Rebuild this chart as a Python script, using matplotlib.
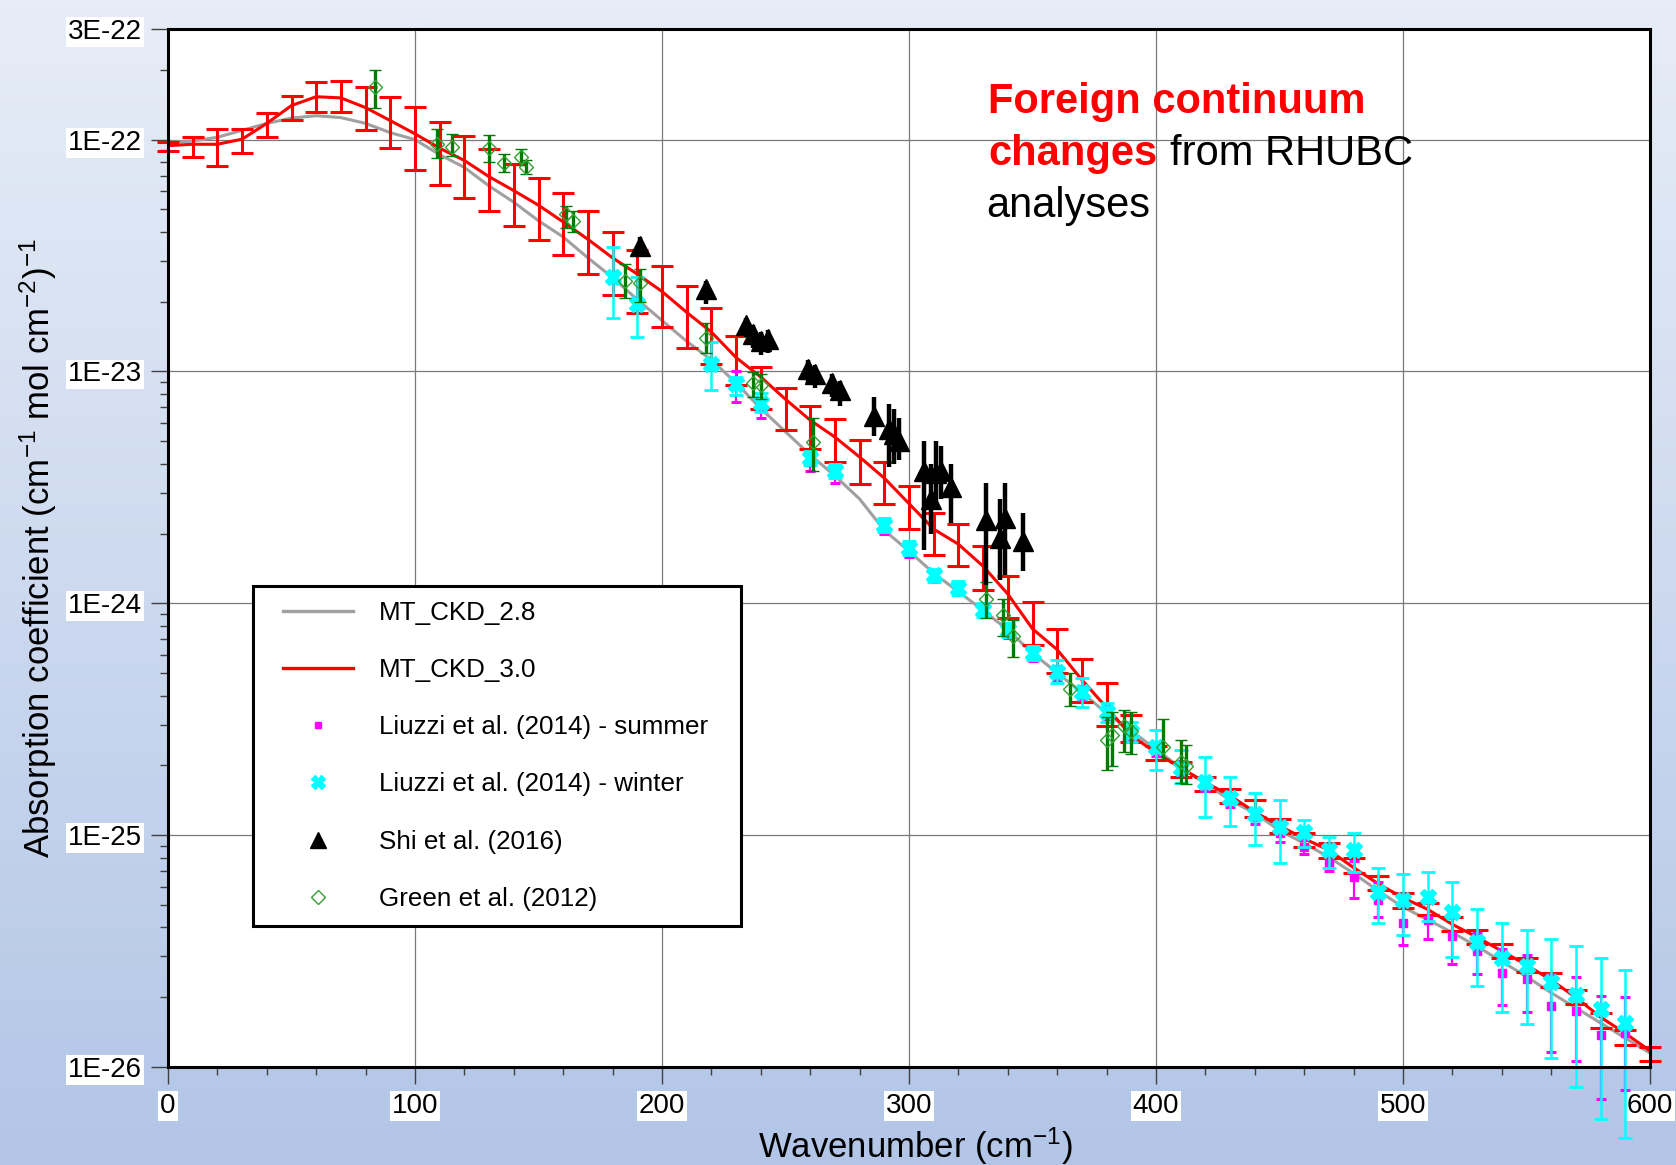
import numpy as np
import matplotlib
matplotlib.use('Agg')
import matplotlib.pyplot as plt
from matplotlib.lines import Line2D
from matplotlib.patches import Rectangle
from matplotlib.ticker import FixedLocator, FixedFormatter, NullFormatter, LogLocator, MultipleLocator

plt.rcParams['font.family'] = ['Liberation Sans', 'DejaVu Sans']
plt.rcParams['mathtext.fontset'] = 'custom'
plt.rcParams['mathtext.rm'] = 'Liberation Sans'
plt.rcParams['mathtext.it'] = 'Liberation Sans:italic'
plt.rcParams['mathtext.bf'] = 'Liberation Sans:bold'
plt.rcParams['mathtext.default'] = 'regular'

# ---------------- data (log10 of absorption coefficient) ----------------
wn_model = [0, 10, 20, 30, 40, 50, 60, 70, 80, 90, 100, 110, 120, 130, 140, 150,
            160, 170, 180, 190, 200, 210, 220, 230, 240, 250, 260, 270, 280, 290,
            300, 310, 320, 330, 340, 350, 360, 370, 380, 390, 400, 410, 420, 430,
            440, 450, 460, 470, 480, 490, 500, 510, 520, 530, 540, 550, 560, 570,
            580, 590, 600]

mtckd28_log10 = [-22.013, -22.006, -21.99, -21.96, -21.93, -21.907, -21.897, -21.905,
                 -21.93, -21.97, -22.0, -22.065, -22.12, -22.2, -22.27, -22.35, -22.42,
                 -22.51, -22.595, -22.69, -22.78, -22.87, -22.95, -23.05, -23.16, -23.26,
                 -23.36, -23.45, -23.55, -23.685, -23.775, -23.87, -23.95, -24.03, -24.115,
                 -24.215, -24.30, -24.385, -24.474, -24.55, -24.63, -24.71, -24.775, -24.85,
                 -24.905, -24.98, -25.035, -25.095, -25.165, -25.24, -25.31, -25.365, -25.42,
                 -25.48, -25.545, -25.61, -25.68, -25.745, -25.81, -25.875, -25.94]

mtckd30_log10 = [-22.026, -22.02, -22.02, -21.998, -21.93, -21.853, -21.815, -21.82,
                 -21.862, -21.918, -21.975, -22.037, -22.09, -22.16, -22.22, -22.283,
                 -22.355, -22.43, -22.51, -22.58, -22.655, -22.745, -22.83, -22.94, -23.024,
                 -23.12, -23.21, -23.283, -23.369, -23.46, -23.57, -23.68, -23.745, -23.84,
                 -23.96, -24.11, -24.20, -24.33, -24.45, -24.57, -24.645, -24.71, -24.772,
                 -24.83, -24.90, -24.96, -25.015, -25.065, -25.14, -25.21, -25.27, -25.32,
                 -25.385, -25.44, -25.50, -25.56, -25.625, -25.70, -25.785, -25.855, -25.93]

mtckd30_hi_log10 = [-22.012, -21.99, -21.954, -21.954, -21.887, -21.81, -21.753, -21.749,
                    -21.772, -21.818, -21.86, -21.925, -21.983, -22.04, -22.105, -22.165,
                    -22.23, -22.31, -22.40, -22.478, -22.543, -22.63, -22.725, -22.845, -22.98,
                    -23.07, -23.15, -23.207, -23.297, -23.39, -23.494, -23.61, -23.656, -23.754,
                    -23.884, -23.994, -24.112, -24.24, -24.343, -24.48, -24.615, -24.684, -24.75,
                    -24.80, -24.85, -24.93, -24.99, -25.035, -25.10, -25.177, -25.25, -25.293,
                    -25.355, -25.41, -25.47, -25.53, -25.595, -25.67, -25.767, -25.84, -25.914]
mtckd30_lo_log10 = [-22.047, -22.073, -22.112, -22.057, -21.987, -21.914, -21.882, -21.882,
                    -21.958, -22.037, -22.13, -22.194, -22.253, -22.31, -22.374, -22.435,
                    -22.497, -22.58, -22.67, -22.746, -22.81, -22.9, -22.967, -23.06, -23.164,
                    -23.254, -23.333, -23.391, -23.484, -23.573, -23.678, -23.793, -23.839,
                    -23.944, -24.065, -24.18, -24.30, -24.427, -24.53, -24.60, -24.675, -24.749,
                    -24.81, -24.86, -24.92, -24.99, -25.05, -25.10, -25.165, -25.237, -25.315,
                    -25.345, -25.415, -25.47, -25.53, -25.59, -25.655, -25.73, -25.83, -25.905,
                    -25.974]

winter_x = [180, 190, 220, 230, 240, 260, 270, 290, 300, 310, 320, 330, 340, 350, 360,
            370, 380, 390, 400, 410, 420, 430, 440, 450, 460, 470, 480, 490, 500, 510,
            520, 530, 540, 550, 560, 570, 580, 590]
winter_log10 = [-22.593, -22.71, -22.967, -23.053, -23.134, -23.375, -23.43, -23.664,
                -23.763, -23.88, -23.935, -24.03, -24.116, -24.216, -24.297, -24.384, -24.47,
                -24.556, -24.62, -24.71, -24.77, -24.84, -24.91, -24.966, -24.986, -25.065,
                -25.065, -25.245, -25.28, -25.267, -25.33, -25.46, -25.53, -25.565, -25.633,
                -25.69, -25.75, -25.81]
winter_hi_log10 = [-22.464, -22.593, -22.874, -23.024, -23.095, -23.345, -23.40, -23.634,
                   -23.733, -23.85, -23.905, -24.0, -24.086, -24.186, -24.246, -24.323, -24.43,
                   -24.51, -24.547, -24.633, -24.664, -24.75, -24.82, -24.85, -24.935, -25.01,
                   -24.99, -25.14, -25.168, -25.16, -25.2, -25.32, -25.378, -25.41, -25.45,
                   -25.48, -25.53, -25.58]
winter_lo_log10 = [-22.768, -22.85, -23.08, -23.103, -23.175, -23.405, -23.46, -23.694,
                   -23.793, -23.91, -23.965, -24.06, -24.146, -24.246, -24.345, -24.448, -24.51,
                   -24.60, -24.72, -24.776, -24.922, -24.96, -25.043, -25.12, -25.05, -25.14,
                   -25.16, -25.38, -25.43, -25.37, -25.525, -25.65, -25.763, -25.815, -25.96,
                   -26.086, -26.224, -26.306]

summer_x = [230, 240, 260, 270, 290, 300, 310, 320, 330, 340, 350, 360, 370, 380, 390,
            400, 410, 420, 430, 440, 450, 460, 470, 480, 490, 500, 510, 520, 530, 540,
            550, 560, 570, 580, 590]
summer_log10 = [-23.06, -23.15, -23.39, -23.44, -23.67, -23.77, -23.885, -23.94, -24.03,
                -24.12, -24.22, -24.30, -24.385, -24.47, -24.56, -24.63, -24.71, -24.78,
                -24.85, -24.92, -24.99, -25.05, -25.12, -25.18, -25.28, -25.38, -25.366,
                -25.435, -25.50, -25.595, -25.62, -25.735, -25.76, -25.86, -25.853]
summer_hi_log10 = [-22.996, -23.116, -23.35, -23.40, -23.64, -23.74, -23.86, -23.915, -24.0,
                   -24.09, -24.19, -24.27, -24.355, -24.44, -24.53, -24.6, -24.68, -24.75,
                   -24.82, -24.89, -24.95, -25.02, -25.08, -25.11, -25.2, -25.30, -25.29,
                   -25.358, -25.42, -25.49, -25.517, -25.60, -25.61, -25.694, -25.698]
summer_lo_log10 = [-23.13, -23.20, -23.43, -23.48, -23.70, -23.80, -23.91, -23.965, -24.06,
                   -24.15, -24.25, -24.33, -24.415, -24.50, -24.59, -24.66, -24.74, -24.81,
                   -24.88, -24.95, -25.03, -25.08, -25.155, -25.27, -25.353, -25.474, -25.45,
                   -25.556, -25.60, -25.733, -25.763, -25.935, -25.974, -26.14, -26.10]

shi_x = [191, 218, 234, 237, 240, 243, 259, 262, 269, 272, 286, 292, 294, 296, 306, 309,
         311, 313, 317, 331, 337, 339, 346]
shi_log10 = [-22.46, -22.645, -22.80, -22.84, -22.87, -22.86, -22.99, -23.01, -23.05, -23.08,
             -23.19, -23.25, -23.27, -23.30, -23.43, -23.55, -23.44, -23.43, -23.50, -23.64,
             -23.72, -23.63, -23.73]
shi_hi_log10 = [-22.42, -22.61, -22.77, -22.80, -22.83, -22.82, -22.95, -22.97, -23.01, -23.04,
                -23.11, -23.14, -23.16, -23.20, -23.30, -23.40, -23.30, -23.32, -23.40, -23.48,
                -23.55, -23.48, -23.61]
shi_lo_log10 = [-22.50, -22.71, -22.85, -22.90, -22.93, -22.92, -23.05, -23.07, -23.11, -23.15,
                -23.28, -23.41, -23.40, -23.38, -23.77, -23.70, -23.585, -23.55, -23.655, -23.92,
                -23.90, -23.88, -23.86]

green_x = [84, 109, 115, 130, 136, 143, 145, 161, 164, 185, 191, 218, 237, 240, 261, 331,
           338, 342, 365, 380, 382, 387, 390, 403, 410, 412]
green_log10 = [-21.775, -22.02, -22.03, -22.035, -22.10, -22.075, -22.12, -22.32, -22.35,
               -22.61, -22.62, -22.855, -23.05, -23.06, -23.305, -23.98, -24.05, -24.14,
               -24.37, -24.59, -24.57, -24.53, -24.55, -24.62, -24.685, -24.70]
green_hi_log10 = [-21.698, -21.953, -21.977, -21.98, -22.06, -22.04, -22.09, -22.285, -22.31,
                  -22.535, -22.556, -22.79, -23.003, -23.01, -23.20, -23.908, -23.98, -24.07,
                  -24.30, -24.49, -24.47, -24.46, -24.47, -24.50, -24.59, -24.61]
green_lo_log10 = [-21.863, -22.08, -22.07, -22.095, -22.14, -22.11, -22.15, -22.38, -22.40,
                  -22.685, -22.70, -22.92, -23.11, -23.12, -23.43, -24.065, -24.14, -24.23,
                  -24.445, -24.72, -24.70, -24.64, -24.65, -24.67, -24.775, -24.78]

xtick_vals = [0, 100, 200, 300, 400, 500, 600]
xtick_labels = ['0', '100', '200', '300', '400', '500', '600']
ytick_vals = [1e-26, 1e-25, 1e-24, 1e-23, 1e-22, 3e-22]
ytick_labels = ['1E-26', '1E-25', '1E-24', '1E-23', '1E-22', '3E-22']

legend_labels = ['MT_CKD_2.8', 'MT_CKD_3.0', 'Liuzzi et al. (2014) - summer',
                 'Liuzzi et al. (2014) - winter', 'Shi et al. (2016)', 'Green et al. (2012)']


def val(a):
    return 10.0 ** np.asarray(a, dtype=float)


W, H = 1676, 1165
fig = plt.figure(figsize=(W / 100, H / 100), dpi=100)

# background gradient
bg = fig.add_axes([0, 0, 1, 1], zorder=-10)
c_top = np.array([0.905, 0.93, 0.97])
c_bot = np.array([0.70, 0.775, 0.905])
t = np.linspace(0, 1, 256)[:, None]
grad = c_top * (1 - t) + c_bot * t
bg.imshow(grad[:, None, :], aspect='auto', extent=[0, 1, 0, 1])
bg.axis('off')

ax = fig.add_axes([168 / W, 1 - 1067 / H, 1482 / W, 1038 / H])
ax.set_facecolor('white')
ax.set_yscale('log')


def errbar(x, y, hi, lo, **kw):
    yv = val(y)
    yerr = np.vstack([yv - val(lo), val(hi) - yv])
    yerr = np.clip(yerr, 0, None)
    cont = ax.errorbar(x, yv, yerr=yerr, **kw)
    for art in cont.get_children():
        art.set_clip_on(False)
    return cont


# model curves
ax.plot(wn_model, val(mtckd28_log10), color='#a0a0a0', lw=2.2, zorder=2)
errbar(wn_model, mtckd30_log10, mtckd30_hi_log10, mtckd30_lo_log10, fmt='none',
       ecolor='red', elinewidth=2.2, capsize=8, capthick=2.2, zorder=3)
ax.plot(wn_model, val(mtckd30_log10), color='red', lw=2.2, zorder=4)

# measurements
errbar(summer_x, summer_log10, summer_hi_log10, summer_lo_log10, fmt='s', color='magenta',
       ms=6, mec='magenta', ecolor='magenta', elinewidth=1.6, capsize=3.5, capthick=2.2,
       zorder=5)
errbar(winter_x, winter_log10, winter_hi_log10, winter_lo_log10, fmt='X', color='cyan',
       ms=11, mec='cyan', ecolor='cyan', elinewidth=1.8, capsize=5, capthick=2.0, zorder=6)
errbar(green_x, green_log10, green_hi_log10, green_lo_log10, fmt='D', mfc='none',
       mec='#33a033', mew=1.0, ms=7, ecolor='#007a00', elinewidth=2.4, capsize=4.5,
       capthick=2.4, zorder=7)
errbar(shi_x, shi_log10, shi_hi_log10, shi_lo_log10, fmt='^', color='black', ms=15,
       ecolor='black', elinewidth=3.2, capsize=0, zorder=8)

# axes styling
ax.set_xlim(0, 600)
ax.set_ylim(1e-26, 3e-22)
ax.xaxis.set_major_locator(FixedLocator(xtick_vals))
ax.xaxis.set_major_formatter(FixedFormatter(xtick_labels))
ax.xaxis.set_minor_locator(MultipleLocator(20))
ax.yaxis.set_major_locator(FixedLocator(ytick_vals))
ax.yaxis.set_major_formatter(FixedFormatter(ytick_labels))
ax.yaxis.set_minor_locator(LogLocator(base=10, subs=np.arange(2, 10)))
ax.yaxis.set_minor_formatter(NullFormatter())
ax.tick_params(axis='both', which='major', direction='out', length=12, width=1.0,
               color='#404040', labelsize=20)
ax.tick_params(axis='both', which='minor', direction='out', length=6, width=1.0,
               color='#404040')
ax.tick_params(axis='y', which='major', pad=7)
ax.tick_params(axis='x', which='major', pad=7)
ax.grid(True, which='major', color='#7a7a7a', lw=0.9)
ax.set_axisbelow(True)
for sp in ax.spines.values():
    sp.set_linewidth(2.2)
    sp.set_color('black')
    sp.set_zorder(30)

# legend with manual frame
frame = Rectangle((0.05735, 0.13584), 0.32929, 0.32755, transform=ax.transAxes,
                  facecolor='white', edgecolor='black', lw=2.2, zorder=20)
ax.add_patch(frame)
handles = [Line2D([], [], color='#a0a0a0', lw=2.4),
           Line2D([], [], color='red', lw=2.4),
           Line2D([], [], ls='none', marker='s', color='magenta', ms=5),
           Line2D([], [], ls='none', marker='X', color='cyan', ms=10),
           Line2D([], [], ls='none', marker='^', color='black', ms=11),
           Line2D([], [], ls='none', marker='D', mfc='none', mec='#33a033', ms=7)]
leg = ax.legend(handles, legend_labels, loc='upper left', bbox_to_anchor=(0.0776, 0.4492),
                frameon=False, fontsize=18.7, borderpad=0, borderaxespad=0,
                handlelength=2.7, handletextpad=1.0, labelspacing=1.28)
leg.set_zorder(21)
ax.set_xlim(0, 600)
ax.set_ylim(1e-26, 3e-22)

# annotation text
fig.text(988 / W, 1 - 113 / H, 'Foreign continuum', color='red', fontweight='bold',
         fontsize=30, va='baseline', ha='left')
fig.text(988 / W, 1 - 165 / H, 'changes', color='red', fontweight='bold',
         fontsize=30, va='baseline', ha='left')
fig.text(1170 / W, 1 - 165 / H, 'from RHUBC', color='black', fontsize=30,
         va='baseline', ha='left')
fig.text(986 / W, 1 - 217 / H, 'analyses', color='black', fontsize=30,
         va='baseline', ha='left')

# axis labels
fig.text(915 / W, 1 - 1158 / H, 'Wavenumber (cm$^{-1}$)', ha='center', va='baseline',
         fontsize=25)
fig.text(38 / W, 1 - 548 / H, 'Absorption coefficient (cm$^{-1}$ mol cm$^{-2}$)$^{-1}$',
         rotation=90, ha='center', va='center', fontsize=25)

fig.canvas.draw()
for lab in ax.get_xticklabels() + ax.get_yticklabels():
    lab.set_bbox(dict(facecolor='white', edgecolor='none', pad=1.5))

fig.savefig('out.png', dpi=100)
